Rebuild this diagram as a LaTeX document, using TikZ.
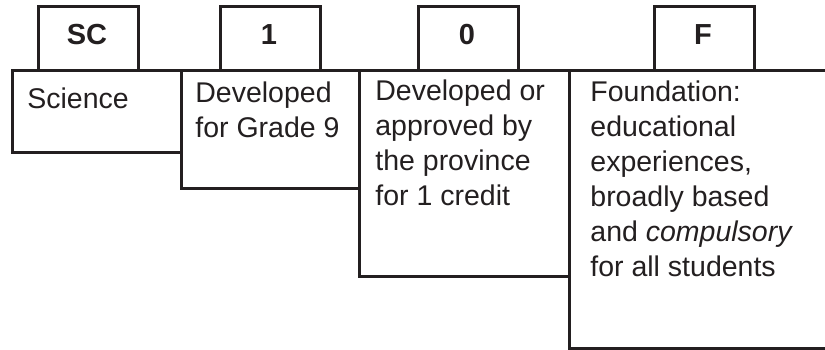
\documentclass[tikz,border=0pt]{standalone}
\usepackage{fontspec}
\setmainfont{Liberation Sans}
\usetikzlibrary{positioning}
\definecolor{ink}{HTML}{231F20}
\tikzstyle{code_box} = [
    rectangle,
    draw=ink,
    line width=1.5pt,
    anchor=north west,
    inner sep=0pt,
    minimum width=50pt,
    minimum height=32pt
]
\tikzstyle{desc_box} = [
    rectangle,
    draw=ink,
    line width=1.5pt,
    anchor=north west,
    inner sep=0pt
]
\tikzstyle{code_label} = [
    ink,
    anchor=base,
    inner sep=0pt,
    font=\fontsize{14.5}{17.5}\selectfont\bfseries
]
\tikzstyle{desc_text} = [
    ink,
    anchor=base west, % base = last line
    inner sep=0pt,
    align=left,
    font=\fontsize{14.25}{17.5}\selectfont
]

\begin{document}
\begin{tikzpicture}[x=0.5pt, y=-0.5pt]
\useasboundingbox (0,0) rectangle (825,349);
\clip (0,0) rectangle (825,349);
% boxes below the line
\node [desc_box, minimum width=84.5pt, minimum height=41pt] (science_box) at (11,69) {};
\node [desc_box, minimum width=89pt, minimum height=59pt] (grade_box) at (180,69) {};
\node [desc_box, minimum width=105pt, minimum height=103pt] (credit_box) at (358,69) {};
\node [desc_box, minimum width=140pt, minimum height=139pt] (course_box) at (568,69) {};
% code boxes
\node [code_box] (sc_box) at (37,5) {};
\node [code_box] (one_box) at (219,5) {};
\node [code_box] (zero_box) at (417,5) {};
\node [code_box] (f_box) at (653,5) {};
\node [code_label] (sc) at (87,44) {SC};
\node [code_label] (one) at (269,44) {1};
\node [code_label] (zero) at (467,44) {0};
\node [code_label] (f) at (703,44) {F};
% texts
\node [desc_text] (science) at (27,108) {Science};
\node [desc_text] (grade) at (195,137) {Developed\\for Grade 9};
\node [desc_text] (credit) at (375,205) {Developed or\\approved by\\the province\\for 1 credit};
\node [desc_text] (course) at (590,276) {Foundation:\\educational\\experiences,\\broadly based\\and \textit{compulsory}\\for all students};
\end{tikzpicture}
\end{document}
